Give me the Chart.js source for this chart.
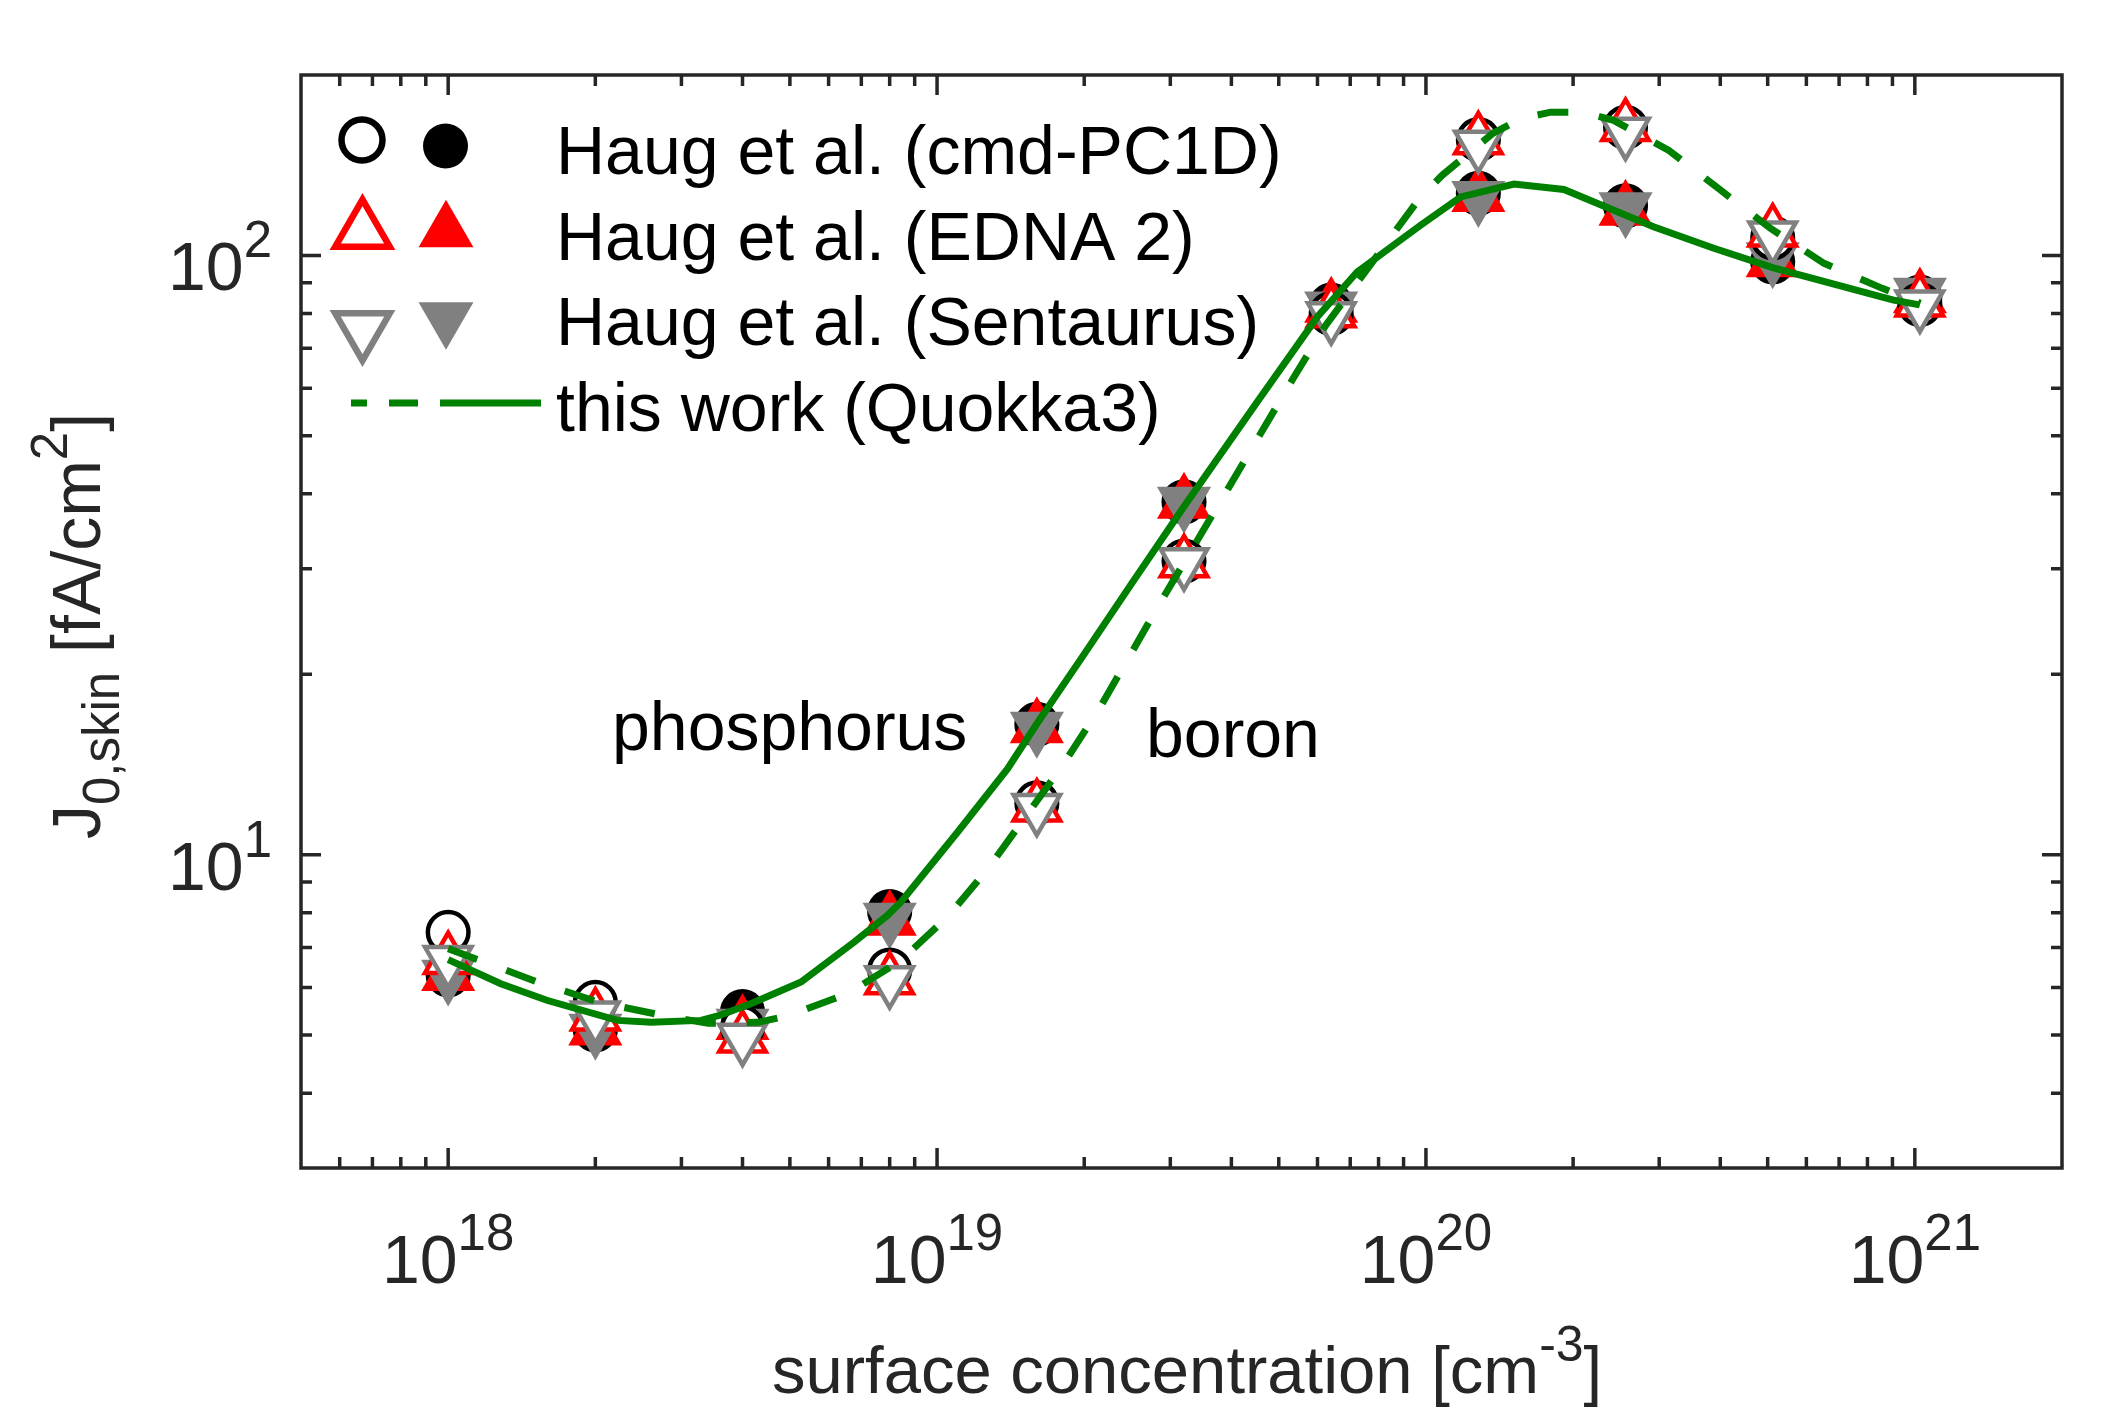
<!DOCTYPE html>
<html>
<head>
<meta charset="utf-8">
<script src="https://cdn.jsdelivr.net/npm/chart.js@4.4.1/dist/chart.umd.min.js"></script>
<style>
  html, body { margin: 0; padding: 0; background: #fff; }
  canvas { display: block; }
</style>
</head>
<body>
<canvas id="grafico" width="2125" height="1419"></canvas>
<script>
// --- DATA ---
// surface concentration [cm^-3]
const concentrations = [1e18, 2e18, 4e18, 8e18, 1.6e19, 3.2e19, 6.4e19, 1.28e20, 2.56e20, 5.12e20, 1.024e21];

// phosphorus (filled markers)
const phosPC1D = [6.3, 5.1, 5.47, 8.04, 16.5, 38.8, 82.6, 127, 121, 97.6, 85.2];
const phosEDNA = [6.29, 5.1, 5.21, 7.78, 16.3, 38.6, 82.0, 125.5, 119, 97.6, 85.0];
const phosSentaurus = [6.29, 5.11, 5.21, 7.83, 16.3, 38.7, 82.0, 125.3, 120, 99.0, 86.4];

// boron (open markers)
const boronPC1D = [7.42, 5.67, 5.15, 6.42, 12.2, 30.9, 80.0, 156, 163.6, 107, 82.8];
const boronEDNA = [6.68, 5.38, 4.94, 6.18, 12.0, 30.7, 80.2, 155.9, 164.1, 109.4, 83.6];
const boronSentaurus = [6.66, 5.38, 4.94, 6.16, 11.95, 30.7, 79.0, 152.8, 160.5, 107.8, 82.7];

// Quokka3 curves
const phosLineX = [1e18, 1.281e18, 1.597e18, 2.22e18, 2.6e18, 3.29e18, 3.61e18, 4.16e18, 5.27e18, 6.77e18, 7.92e18,
  8.43e18, 1.101e19, 1.393e19, 1.605e19, 1.968e19, 2.49e19, 3.2e19, 4.52e19, 6.0e19, 7.24e19, 9.75e19,
  1.178e20, 1.514e20, 1.915e20, 2.92e20, 3.88e20, 5.14e20, 8.0e20, 9.05e20, 1.023e21];
const phosLineY = [6.68, 6.09, 5.71, 5.29, 5.25, 5.29, 5.40, 5.64, 6.13, 7.15, 7.92,
  8.33, 10.9, 13.9, 16.6, 21.2, 28.2, 38.1, 57.0, 79.0, 93.9, 112.3,
  125.2, 131.5, 128.8, 111.6, 102.8, 95.3, 86.5, 84.2, 82.7];

const boronLineX = [1e18, 1.523e18, 2.02e18, 2.72e18, 3.4e18, 4.3e18, 4.94e18, 6.56e18, 8.43e18, 1.05e19,
  1.278e19, 1.818e19, 2.145e19, 2.89e19, 3.93e19, 5.33e19, 6.24e19, 9.75e19, 1.08e20, 1.367e20,
  1.562e20, 1.8e20, 2.09e20, 2.42e20, 3.14e20, 4.01e20, 5.07e20, 6.52e20, 8.58e20, 1.027e21];
const boronLineY = [6.97, 6.13, 5.68, 5.40, 5.23, 5.25, 5.38, 5.86, 6.66, 7.87,
  9.53, 14.2, 17.5, 26.7, 40.7, 62.0, 76.5, 125.2, 136.1, 159.6,
  169.1, 173.4, 173.4, 168.0, 149.7, 128.4, 110.9, 97.0, 88.1, 83.2];

// axis ticks
const xMajorTicks = [1e18, 1e19, 1e20, 1e21];
const xTickExponents = ['18', '19', '20', '21'];
const yMajorTicks = [10, 100];
const yTickExponents = ['1', '2'];

const legendLabels = ['Haug et al. (cmd-PC1D)', 'Haug et al. (EDNA 2)', 'Haug et al. (Sentaurus)', 'this work (Quokka3)'];

// --- STYLE ---
const FONT = '"Liberation Sans", Arial, Helvetica, sans-serif';
const AXIS_COLOR = '#262626';
const GREEN = '#008000';
const RED = '#ff0000';
const GRAY = '#808080';

function pontos(ys) {
  return concentrations.map((x, i) => ({ x: x, y: ys[i] }));
}
function linha(xs, ys) {
  return xs.map((x, i) => ({ x: x, y: ys[i] }));
}

function marcador(label, ys, estilo, cor, cheio, rot, ordem) {
  return {
    label: label,
    data: pontos(ys),
    showLine: false,
    pointStyle: estilo,
    pointRotation: rot,
    pointRadius: estilo === 'circle' ? 20.3 : 26.8,
    pointBorderWidth: 4.5,
    pointBackgroundColor: cheio ? cor : '#ffffff',
    pointBorderColor: cor,
    order: ordem
  };
}

// minor ticks of a log axis between min and max
function minorTicks(min, max) {
  const out = [];
  for (let e = Math.floor(Math.log10(min)); e <= Math.ceil(Math.log10(max)); e++) {
    for (let m = 2; m <= 9; m++) {
      const v = m * Math.pow(10, e);
      if (v > min * 1.0001 && v < max * 0.9999) out.push(v);
    }
  }
  return out;
}

// draws a piece of text, returns end x
function pedaco(c, txt, x, y, size) {
  c.font = size + 'px ' + FONT;
  c.fillText(txt, x, y);
  return x + c.measureText(txt).width;
}

function potencia(c, exp, x, y, align) {
  c.font = '68px ' + FONT;
  const wb = c.measureText('10').width;
  c.font = '51px ' + FONT;
  const we = c.measureText(exp).width;
  let x0 = x;
  if (align === 'center') x0 = x - (wb + we) / 2;
  if (align === 'right') x0 = x - (wb + we);
  const xe = pedaco(c, '10', x0, y, 68);
  pedaco(c, exp, xe, y - 33, 51);
}

function desenhaMarcador(c, estilo, x, y, r, fill, stroke, lw, rot) {
  c.beginPath();
  if (estilo === 'circle') {
    c.arc(x, y, r, 0, Math.PI * 2);
  } else {
    let ang = rot ? Math.PI : 0;
    for (let k = 0; k < 3; k++) {
      const px = x + Math.sin(ang) * r, py = y - Math.cos(ang) * r;
      if (k === 0) c.moveTo(px, py); else c.lineTo(px, py);
      ang += 2 * Math.PI / 3;
    }
    c.closePath();
  }
  c.fillStyle = fill;
  c.fill();
  if (lw > 0) {
    c.lineWidth = lw;
    c.strokeStyle = stroke;
    c.stroke();
  }
}

// --- AXES, LABELS AND LEGEND (MATLAB look) ---
const eixosMatlab = {
  id: 'eixosMatlab',
  afterDraw(chart) {
    const c = chart.ctx;
    const xs = chart.scales.x, ys = chart.scales.y;
    const a = chart.chartArea;
    c.save();

    // box
    c.strokeStyle = AXIS_COLOR;
    c.lineWidth = 3.5;
    c.strokeRect(a.left, a.top, a.right - a.left, a.bottom - a.top);

    // inward ticks on all four sides
    c.lineWidth = 3.5;
    c.beginPath();
    const tickX = (v, len) => {
      const px = xs.getPixelForValue(v);
      c.moveTo(px, a.bottom); c.lineTo(px, a.bottom - len);
      c.moveTo(px, a.top); c.lineTo(px, a.top + len);
    };
    const tickY = (v, len) => {
      const py = ys.getPixelForValue(v);
      c.moveTo(a.left, py); c.lineTo(a.left + len, py);
      c.moveTo(a.right, py); c.lineTo(a.right - len, py);
    };
    minorTicks(xs.min, xs.max).forEach(v => tickX(v, 11));
    xMajorTicks.forEach(v => tickX(v, 20));
    minorTicks(ys.min, ys.max).forEach(v => tickY(v, 11));
    yMajorTicks.forEach(v => tickY(v, 20));
    c.stroke();

    // tick labels
    c.fillStyle = AXIS_COLOR;
    c.textBaseline = 'alphabetic';
    c.textAlign = 'left';
    xMajorTicks.forEach((v, i) => {
      potencia(c, xTickExponents[i], xs.getPixelForValue(v), 1283, 'center');
    });
    yMajorTicks.forEach((v, i) => {
      potencia(c, yTickExponents[i], 272, ys.getPixelForValue(v) + 35, 'right');
    });

    // x title
    let x = 772;
    x = pedaco(c, 'surface concentration [cm', x, 1393, 67);
    x = pedaco(c, '-3', x, 1361, 50);
    pedaco(c, ']', x, 1393, 67);

    // y title (rotated)
    c.save();
    c.translate(100, 626);
    c.rotate(-Math.PI / 2);
    c.font = '68px ' + FONT;
    let total = c.measureText('J').width + c.measureText(' [fA/cm').width + c.measureText(']').width;
    c.font = '51px ' + FONT;
    total += c.measureText('0,skin').width + c.measureText('2').width;
    let u = -total / 2;
    u = pedaco(c, 'J', u, 0, 68);
    u = pedaco(c, '0,skin', u, 19, 51);
    u = pedaco(c, ' [fA/cm', u, 0, 68);
    u = pedaco(c, '2', u, -33, 51);
    pedaco(c, ']', u, 0, 68);
    c.restore();

    // annotations
    c.fillStyle = '#000000';
    pedaco(c, 'phosphorus', 612, 750, 68);
    pedaco(c, 'boron', 1146, 757, 68);

    // legend
    const baselines = [174, 260, 345, 431];
    legendLabels.forEach((t, i) => pedaco(c, t, 556, baselines[i], 68));
    desenhaMarcador(c, 'circle', 362, 140, 20.5, '#ffffff', '#000000', 6.5, false);
    desenhaMarcador(c, 'circle', 445.5, 146, 22.5, '#000000', '#000000', 0, false);
    desenhaMarcador(c, 'triangle', 362.5, 231, 31.5, '#ffffff', RED, 6.5, false);
    desenhaMarcador(c, 'triangle', 446, 231.5, 31.7, RED, RED, 0, false);
    desenhaMarcador(c, 'triangle', 362.5, 329, 31.5, '#ffffff', GRAY, 6.5, true);
    desenhaMarcador(c, 'triangle', 446, 318, 31.7, GRAY, GRAY, 0, true);

    c.strokeStyle = GREEN;
    c.lineWidth = 7;
    c.lineCap = 'butt';
    c.beginPath();
    c.moveTo(351, 403); c.lineTo(367, 403);
    c.moveTo(389, 403); c.lineTo(418, 403);
    c.moveTo(440, 403); c.lineTo(541, 403);
    c.stroke();

    c.restore();
  }
};

const ctx = document.getElementById('grafico').getContext('2d');

new Chart(ctx, {
  type: 'scatter',
  data: {
    datasets: [
      {
        label: 'this work (Quokka3) phosphorus',
        data: linha(phosLineX, phosLineY),
        showLine: true, pointRadius: 0, borderColor: GREEN, borderWidth: 7, tension: 0, order: 0
      },
      {
        label: 'this work (Quokka3) boron',
        data: linha(boronLineX, boronLineY),
        showLine: true, pointRadius: 0, borderColor: GREEN, borderWidth: 7, borderDash: [31, 31], tension: 0, order: 1
      },
      marcador('Sentaurus boron', boronSentaurus, 'triangle', GRAY, false, 180, 2),
      marcador('EDNA 2 boron', boronEDNA, 'triangle', RED, false, 0, 3),
      marcador('cmd-PC1D boron', boronPC1D, 'circle', '#000000', false, 0, 4),
      marcador('Sentaurus phosphorus', phosSentaurus, 'triangle', GRAY, true, 180, 5),
      marcador('EDNA 2 phosphorus', phosEDNA, 'triangle', RED, true, 0, 6),
      marcador('cmd-PC1D phosphorus', phosPC1D, 'circle', '#000000', true, 0, 7)
    ]
  },
  options: {
    responsive: false,
    animation: false,
    devicePixelRatio: 1,
    layout: { padding: { left: 301, right: 63, top: 75, bottom: 251 } },
    plugins: { legend: { display: false }, tooltip: { enabled: false } },
    scales: {
      x: { type: 'logarithmic', min: 5e17, max: 2e21, display: false },
      y: { type: 'logarithmic', min: 3, max: 200, display: false }
    }
  },
  plugins: [eixosMatlab]
});
</script>
</body>
</html>
